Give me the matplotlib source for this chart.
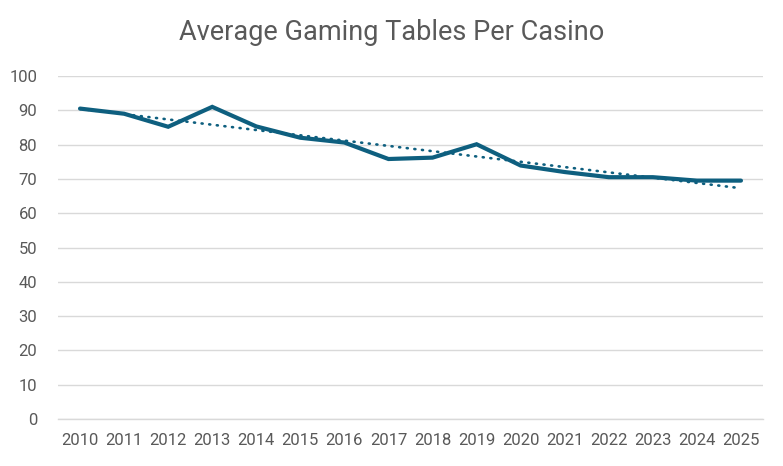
import numpy as np
import matplotlib.pyplot as plt

years = ['2010', '2011', '2012', '2013', '2014', '2015', '2016', '2017',
         '2018', '2019', '2020', '2021', '2022', '2023', '2024', '2025']
tables = [90.5, 89.0, 85.2, 91.0, 85.3, 82.0, 80.6, 75.8,
          76.2, 80.1, 73.9, 72.0, 70.5, 70.5, 69.5, 69.5]

line_color = '#0E5F7F'
text_color = '#595959'

plt.rcParams['font.family'] = ['Roboto', 'DejaVu Sans']

fig = plt.figure(figsize=(7.83, 4.66), dpi=100)
ax = fig.add_axes([58 / 783, 47 / 466, 705 / 783, 343 / 466])

x = np.arange(len(years))
ax.plot(x, tables, color=line_color, linewidth=3.0, solid_capstyle='round',
        solid_joinstyle='miter', zorder=3)

# linear trendline like Excel
coef = np.polyfit(x, tables, 1)
ax.plot(x, np.polyval(coef, x), color=line_color, linewidth=1.9,
        linestyle=(0, (0.4, 2.5)), dash_capstyle='round', zorder=2)

ax.set_xlim(-0.5, len(years) - 0.5)
ax.set_ylim(0, 100)
ax.set_yticks(range(0, 101, 10))
ax.set_xticks(x)
ax.set_xticklabels(years)

ax.grid(axis='y', color='#D9D9D9', linewidth=1.0)
ax.set_axisbelow(True)
for s in ['top', 'right', 'left']:
    ax.spines[s].set_visible(False)
ax.spines['bottom'].set_color('#D9D9D9')
ax.spines['bottom'].set_linewidth(1.0)

ax.tick_params(axis='both', length=0, labelsize=12, labelcolor=text_color)
ax.tick_params(axis='x', pad=10)
ax.tick_params(axis='y', pad=15)

fig.text(0.5, 0.93, 'Average Gaming Tables Per Casino', ha='center', va='center',
         fontsize=19.5, color=text_color)

fig.savefig('out.png', dpi=100)
